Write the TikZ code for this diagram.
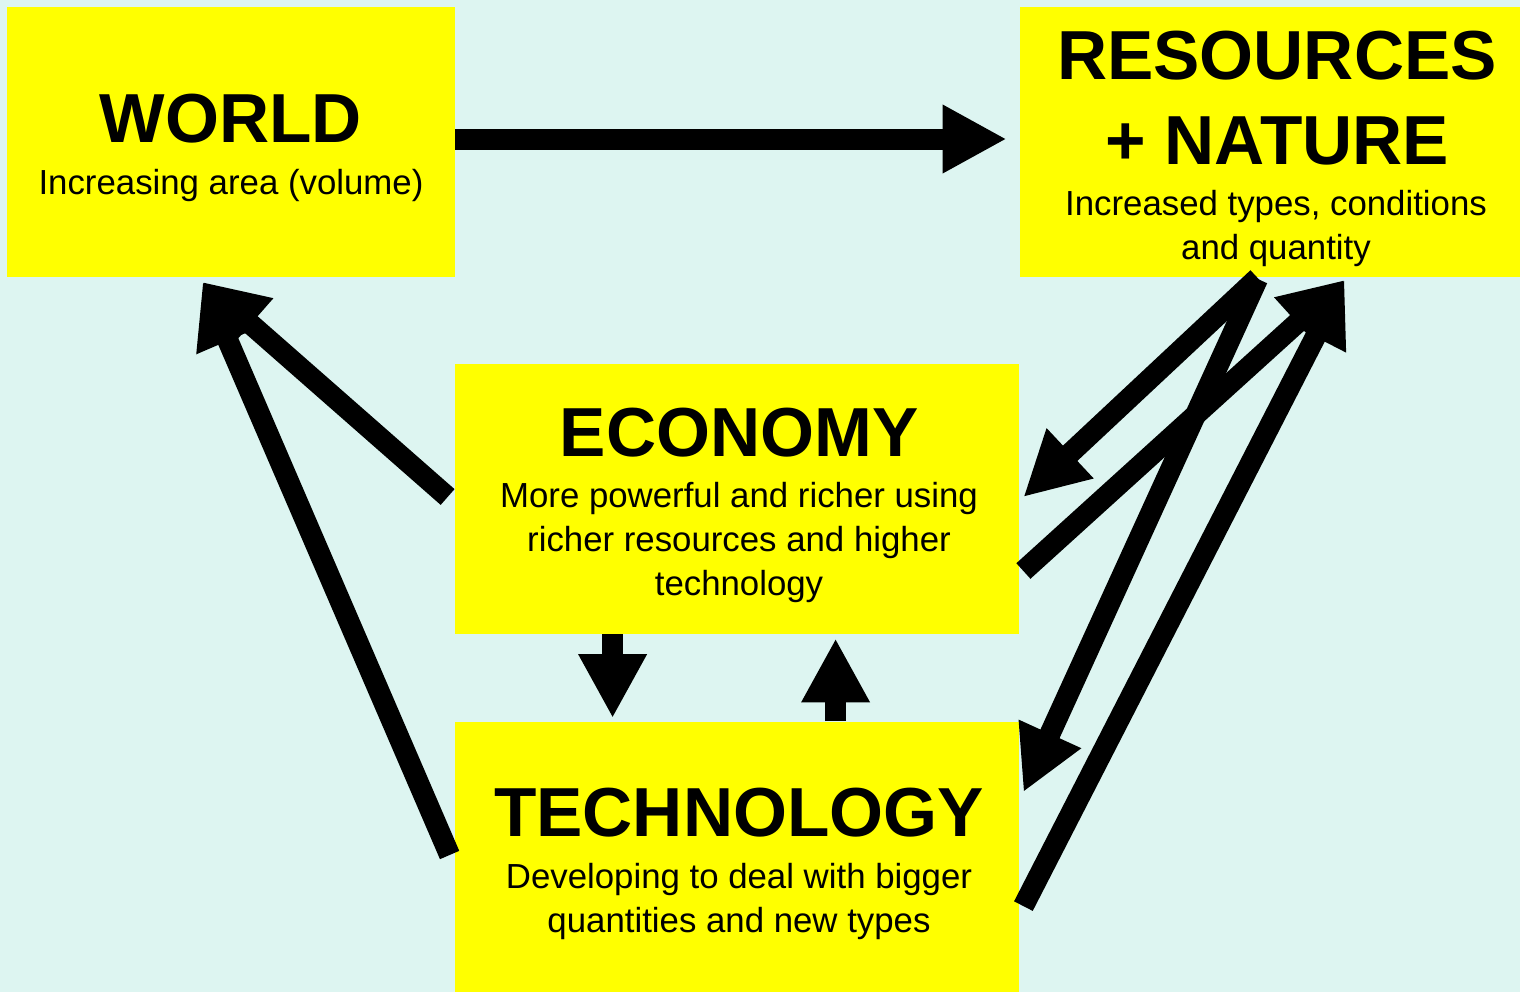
\documentclass[tikz,border=0pt]{standalone}
\usepackage{fontspec}
\setmainfont{Liberation Sans}
\usetikzlibrary{arrows.meta,calc}
\definecolor{bgcyan}{RGB}{221,245,241}
\definecolor{boxyellow}{RGB}{255,255,0}

\tikzset{
  box/.style={fill=boxyellow, inner sep=0pt, minimum height=135pt},
  headtext/.style={anchor=base, inner sep=0pt, align=center, font=\fontsize{34.7pt}{42.5pt}\selectfont\bfseries},
  subtext/.style={anchor=base, inner sep=0pt, align=center, font=\fontsize{17.4pt}{22pt}\selectfont},
  fatarrow/.style={line width=10.5pt, -{Triangle[length=32pt,width=32pt]}},
}

\begin{document}
\begin{tikzpicture}[x=0.5pt,y=-0.5pt]
\fill[bgcyan] (0,0) rectangle (1520,992);
\useasboundingbox (0,0) rectangle (1520,992);

\node[box, minimum width=224pt] (world) at (231,141.5) {};
\node[box, minimum width=256pt] (res) at (1276,141.5) {};
\node[box, minimum width=282pt] (econ) at (737,499) {};
\node[box, minimum width=282pt] (tech) at (737,856.5) {};

% base of a multi-line text is its last line
\node[headtext] (worldhead) at ($(world.north)+(0,136)$) {WORLD};
\node[subtext] (worldsub) at ($(world.north)+(0,188)$) {Increasing area (volume)};

\node[headtext] (reshead) at ($(res.north)+(1,158)$) {RESOURCES\\+ NATURE};
\node[subtext] (ressub) at ($(res.north)+(0,253)$) {Increased types, conditions\\and quantity};

\node[headtext] (econhead) at ($(econ.north)+(2,93)$) {ECONOMY};
\node[subtext] (econsub) at ($(econ.north)+(2,232)$) {More powerful and richer using\\richer resources and higher\\technology};

\node[headtext] (techhead) at ($(tech.north)+(2,115.5)$) {TECHNOLOGY};
\node[subtext] (techsub) at ($(tech.north)+(2,211.5)$) {Developing to deal with bigger\\quantities and new types};

% arrows between the boxes
\draw[fatarrow] ($(world.east)+(0,-2.5)$) -- ($(res.west)+(-13,-2.5)$);
\draw[fatarrow] ($(econ.west)+(-7,-2)$) -- ($(world.south west)+(196,5)$);
\draw[fatarrow] ($(tech.west)+(-5,-1.5)$) -- ($(world.south west)+(196,5)$);
\draw[fatarrow] ($(econ.south west)+(158,0)$) -- ($(tech.north west)+(158,-3)$);
\draw[fatarrow] ($(tech.north west)+(381,0)$) -- ($(econ.south west)+(381,4)$);
\draw[fatarrow] ($(res.south west)+(238,1)$) -- ($(econ.east)+(4,-2)$);
\draw[fatarrow] ($(econ.east)+(4,72)$) -- ($(res.south west)+(325,3)$);
\draw[fatarrow] ($(res.south west)+(238,2)$) -- ($(tech.north east)+(4,71)$);
\draw[fatarrow] ($(tech.north east)+(4,185)$) -- ($(res.south west)+(325,3)$);
\end{tikzpicture}
\end{document}
